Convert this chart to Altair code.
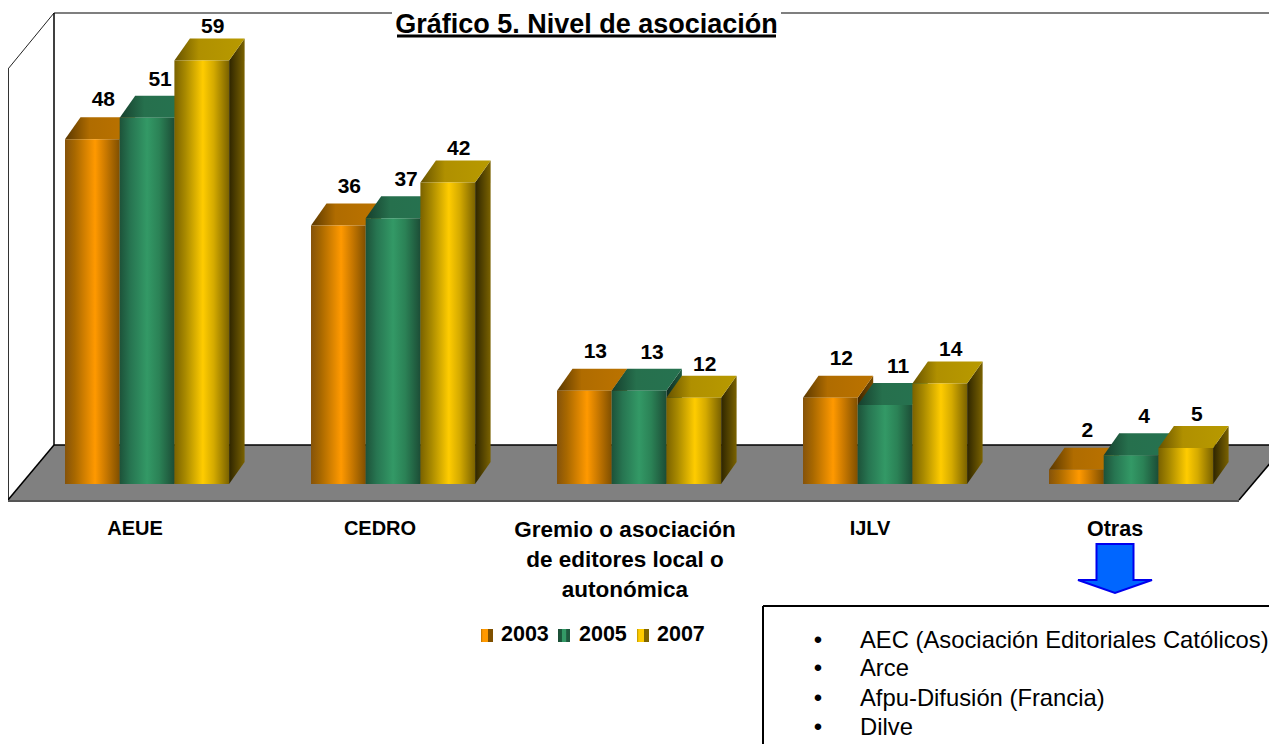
import altair as alt
import pandas as pd

categories = ["AEUE", "CEDRO", "Gremio o asociación\nde editores local o\nautonómica", "IJLV", "Otras"]
category_font = [20, 20, 22.5, 20, 21.5]
years = ["2003", "2005", "2007"]
v2003 = [48, 36, 13, 12, 2]
v2005 = [51, 37, 13, 11, 4]
v2007 = [59, 42, 12, 14, 5]
title_text = "Gráfico 5. Nivel de asociación"
box_items = ["AEC (Asociación Editoriales Católicos)", "Arce", "Afpu-Difusión (Francia)", "Dilve"]

# layout (canvas pixels, converted to value units for the y scale)
W, H = 1261, 736
BASE_PX, PX_PER_UNIT = 484, 7.18
def vy(py):
    return (BASE_PX - py) / PX_PER_UNIT

GROUP_X0, GROUP_STEP, BAR_W = 65, 246, 54.7
DEPTH_X, DEPTH_Y = 15.5, 22 / PX_PER_UNIT
LABEL_CX, LABEL_STEP = 135, 245
FONT = "Liberation Sans"

X = lambda f="x": alt.X(f"{f}:Q", scale=alt.Scale(domain=[8, 1269], nice=False, zero=False), axis=None)
Y = lambda f="y": alt.Y(f"{f}:Q", scale=alt.Scale(domain=[vy(744), vy(8)], nice=False, zero=False), axis=None)

def grad(stops):
    return alt.LinearGradient(gradient="linear", x1=0, x2=1, y1=0, y2=0,
                              stops=[alt.GradientStop(color=c, offset=o) for o, c in stops])

series = [
    dict(year="2003", vals=v2003, dx=11, dy=-17,
         front=[(0, "#85530a"), (.18, "#a86800"), (.55, "#ff9900"), (.75, "#c87800"), (1, "#7f4f00")],
         top=[(0, "#5a3800"), (.35, "#b06c00"), (1, "#bb7300")],
         side=[(0, "#3d2600"), (1, "#7a4c00")],
         sw=[(0, "#b87000"), (.15, "#ff9900"), (.62, "#ff9900"), (.62, "#7f5000"), (1, "#7f5000")]),
    dict(year="2005", vals=v2005, dx=13, dy=-16,
         front=[(0, "#1d5239"), (.2, "#277551"), (.5, "#339966"), (.72, "#2b8256"), (1, "#1c4d36")],
         top=[(0, "#163f2d"), (.35, "#26704d"), (1, "#267250")],
         side=[(0, "#0f2c20"), (1, "#1f5a3f")],
         sw=[(0, "#1c4d36"), (.3, "#1c5a3d"), (.31, "#339966"), (.7, "#339966"), (.71, "#1f5a3f"), (1, "#1f5a3f")]),
    dict(year="2007", vals=v2007, dx=11, dy=-11,
         front=[(0, "#7a6200"), (.2, "#a88900"), (.52, "#ffcc00"), (.72, "#d4aa00"), (1, "#7a6200")],
         top=[(0, "#665200"), (.35, "#b09000"), (1, "#b89a00")],
         side=[(0, "#2e2500"), (1, "#7a6200")],
         sw=[(0, "#b89400"), (.15, "#ffcc00"), (.62, "#ffcc00"), (.62, "#806600"), (1, "#806600")]),
]

layers = []

# floor
floor = pd.DataFrame({"x": [8, 54, 1239, 1277],
                      "y": [vy(500), vy(445), vy(445), vy(445)],
                      "y2": [vy(500), vy(500), vy(500), vy(455)]})
layers.append(alt.Chart(floor).mark_area(color="#808080").encode(x=X(), y=Y(), y2="y2:Q"))

# frame (the back wall's top edge leaves room for the title)
frame = pd.DataFrame([
    (54, 13, 392, 13, "#7f7f7f", 2),
    (781, 13, 1277, 13, "#7f7f7f", 2),
    (8, 69, 54, 13, "#222222", 1),
    (8.5, 69, 8.5, 500, "#333333", 1),
    (54, 13, 54, 445, "#000000", 1.5),
    (54, 445, 1277, 445, "#000000", 1.5),
    (8, 500, 54, 445, "#000000", 1.5),
    (8, 501, 1239, 501, "#555555", 2),
    (1239, 500, 1277, 455, "#000000", 1.5),
], columns=["x", "py", "x2", "py2", "c", "w"])
frame["y"] = frame.py.map(vy)
frame["y2"] = frame.py2.map(vy)
layers.append(alt.Chart(frame).mark_rule().encode(
    x=X(), x2="x2:Q", y=Y(), y2="y2:Q",
    color=alt.Color("c:N", scale=None), strokeWidth=alt.StrokeWidth("w:Q", scale=None)))

# 3-D bars
for s_i, s in enumerate(series):
    fr, tops, sides = [], [], []
    for c_i, v in enumerate(s["vals"]):
        x0 = GROUP_X0 + GROUP_STEP * c_i + BAR_W * s_i
        x1 = x0 + BAR_W
        fr.append(dict(x=x0, x2=x1, y=v, y2=0, val=v))
        t = v + DEPTH_Y
        tops += [dict(g=c_i, x=x0, y=v, y2=v), dict(g=c_i, x=x0 + DEPTH_X, y=t, y2=v),
                 dict(g=c_i, x=x1, y=t, y2=v), dict(g=c_i, x=x1 + DEPTH_X, y=t, y2=t)]
        sides += [dict(g=c_i, x=x1, y=v, y2=0), dict(g=c_i, x=x1 + DEPTH_X, y=t, y2=DEPTH_Y)]
    fr = pd.DataFrame(fr)
    layers.append(alt.Chart(pd.DataFrame(sides)).mark_area(color=grad(s["side"])).encode(
        x=X(), y=Y(), y2="y2:Q", detail="g:N"))
    layers.append(alt.Chart(pd.DataFrame(tops)).mark_area(color=grad(s["top"])).encode(
        x=X(), y=Y(), y2="y2:Q", detail="g:N"))
    layers.append(alt.Chart(fr).mark_rect(color=grad(s["front"])).encode(
        x=X(), x2="x2:Q", y=Y(), y2="y2:Q"))

# value labels
for s_i, s in enumerate(series):
    rows = [dict(x=GROUP_X0 + GROUP_STEP * c_i + BAR_W * (s_i + .5) + DEPTH_X / 2,
                 y=v + DEPTH_Y, t=str(v)) for c_i, v in enumerate(s["vals"])]
    layers.append(alt.Chart(pd.DataFrame(rows)).mark_text(
        font=FONT, fontSize=21, fontWeight="bold", color="#000000",
        dx=s["dx"] - DEPTH_X / 2, dy=s["dy"], baseline="middle", align="center").encode(
        x=X(), y=Y(), text="t:N"))

# category labels
for i, (cat, fs) in enumerate(zip(categories, category_font)):
    cat_df = pd.DataFrame([dict(x=LABEL_CX + LABEL_STEP * i, y=vy(519), t=cat)])
    layers.append(alt.Chart(cat_df).mark_text(
        font=FONT, fontSize=fs, fontWeight="bold", color="#000000", baseline="top", align="center",
        lineBreak="\n", lineHeight=30).encode(x=X(), y=Y(), text="t:N"))

# legend
for s_i, (s, sx, tx) in enumerate(zip(series, [481, 558, 637], [501, 579, 657])):
    sw = pd.DataFrame([dict(x=sx, x2=sx + 12, y=vy(629), y2=vy(642), tx=tx, ty=vy(635), t=s["year"])])
    layers.append(alt.Chart(sw).mark_rect(color=grad(s["sw"])).encode(x=X(), x2="x2:Q", y=Y(), y2="y2:Q"))
    layers.append(alt.Chart(sw).mark_text(font=FONT, fontSize=21.5, fontWeight="bold", color="#000000",
                                          baseline="middle", align="left").encode(x=X("tx"), y=Y("ty"), text="t:N"))

# arrow
arrow_path = "M-.25,-.331 L.25,-.331 L.25,.155 L.5,.155 L0,.331 L-.5,.155 L-.25,.155 Z"
layers.append(alt.Chart(pd.DataFrame([dict(x=1115, y=vy(568.5))])).mark_point(
    shape=arrow_path, size=21904, filled=True, fill="#0066ff", stroke="#0000ee", strokeWidth=2, opacity=1).encode(
    x=X(), y=Y()))

# note box
box = pd.DataFrame([(763, 606, 1277, 606), (763, 606, 763, 744)], columns=["x", "py", "x2", "py2"])
box["y"] = box.py.map(vy)
box["y2"] = box.py2.map(vy)
layers.append(alt.Chart(box).mark_rule(color="#000000", strokeWidth=2).encode(x=X(), x2="x2:Q", y=Y(), y2="y2:Q"))
items = pd.DataFrame({"x": [860] * 4, "bx": [818] * 4, "y": [vy(p) for p in (640.5, 669, 699, 727.5)], "t": box_items, "b": ["•"] * 4})
layers.append(alt.Chart(items).mark_text(font=FONT, fontSize=23.8, color="#000000", align="left", baseline="middle").encode(
    x=X(), y=Y(), text="t:N"))
layers.append(alt.Chart(items).mark_text(font=FONT, fontSize=24, color="#000000", align="center", baseline="middle").encode(
    x=X("bx"), y=Y(), text="b:N"))

# title: its original spot lies above the page margin, so it sits just inside the top edge
title_df = pd.DataFrame([dict(x=586.5, y=vy(33), t=title_text, ux=397, ux2=776, uy=vy(36))])
layers.append(alt.Chart(title_df).mark_text(font=FONT, fontSize=27, fontWeight="bold", color="#000000",
                                            align="center", baseline="alphabetic").encode(x=X(), y=Y(), text="t:N"))
layers.append(alt.Chart(title_df).mark_rule(color="#000000", strokeWidth=3).encode(
    x=X("ux"), x2="ux2:Q", y=Y("uy")))

chart = alt.layer(*layers).properties(
    width=W, height=H, padding=0, autosize=alt.AutoSizeParams(type="none")
).configure_view(stroke=None)

chart.save("out.html", embed_options={"renderer": "svg", "actions": False})
